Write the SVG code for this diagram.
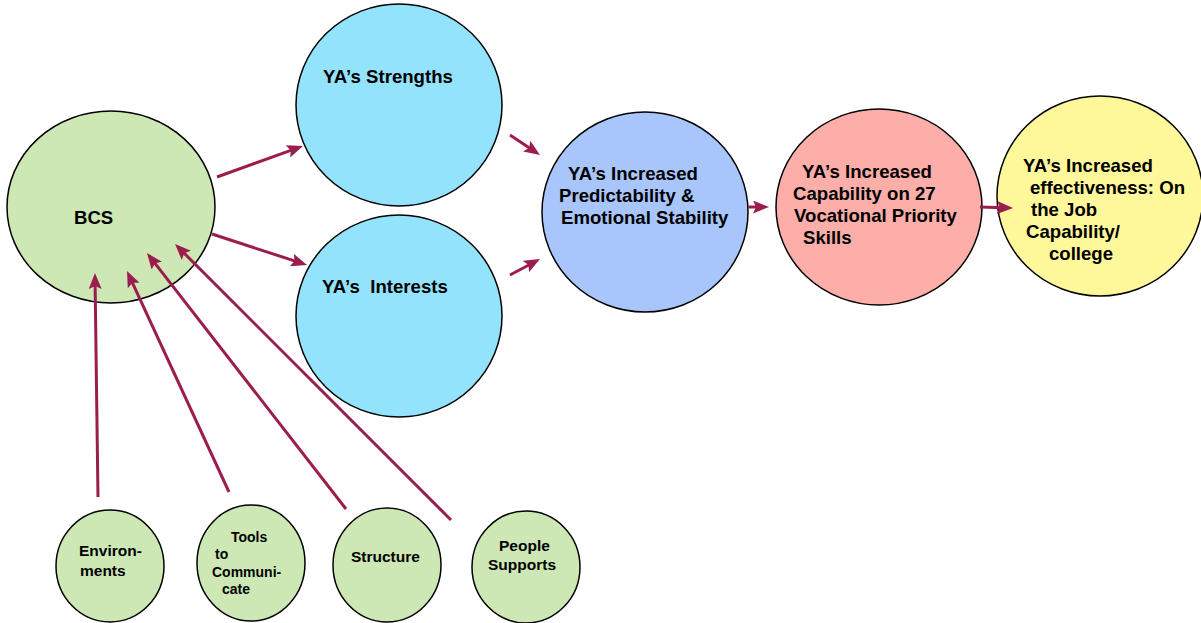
<svg xmlns="http://www.w3.org/2000/svg" width="1201" height="623" viewBox="0 0 1201 623">
  <style>
    .node { stroke: #000; stroke-width: 1.5; }
    .green { fill: #cde8b5; }
    .sky { fill: #94e3fc; }
    .blue { fill: #a8c6fc; }
    .pink { fill: #fdaea9; }
    .yellow { fill: #fef89a; }
    text { font-family: "Liberation Sans", Arial, sans-serif; font-weight: bold; fill: #000; }
    .big { font-size: 18.6px; }
    .small { font-size: 15.5px; }
    .tiny { font-size: 14px; }
    .conn { stroke: #9b1d4e; stroke-width: 3; fill: none; marker-end: url(#head); }
  </style>
  <defs>
    <marker id="head" markerUnits="userSpaceOnUse" viewBox="0 0 16 13" markerWidth="16" markerHeight="13" refX="6" refY="6.5" orient="auto">
      <path d="M0,0 L16,6.5 L0,13 L3,6.5 z" fill="#9b1d4e"/>
    </marker>
  </defs>

  <rect width="1201" height="623" fill="#fff"/>

  <g id="bcs">
    <ellipse class="node green" cx="111" cy="207" rx="104" ry="96"/>
    <text class="big" x="74" y="224">BCS</text>
  </g>

  <g id="strengths">
    <ellipse class="node sky" cx="399" cy="105" rx="103" ry="101"/>
    <text class="big" x="323" y="83">YA’s Strengths</text>
  </g>

  <g id="interests">
    <ellipse class="node sky" cx="399" cy="316" rx="103" ry="101"/>
    <text class="big" x="322" y="293" xml:space="preserve">YA’s  Interests</text>
  </g>

  <g id="stability">
    <ellipse class="node blue" cx="645" cy="212" rx="103" ry="100"/>
    <text class="big" x="568" y="180">YA’s Increased</text>
    <text class="big" x="559" y="202">Predictability &amp;</text>
    <text class="big" x="561" y="224">Emotional Stability</text>
  </g>

  <g id="capability">
    <ellipse class="node pink" cx="879" cy="207" rx="103" ry="98"/>
    <text class="big" x="802" y="178">YA’s Increased</text>
    <text class="big" x="793" y="200">Capability on 27</text>
    <text class="big" x="794" y="222">Vocational Priority</text>
    <text class="big" x="803" y="244">Skills</text>
  </g>

  <g id="effectiveness">
    <ellipse class="node yellow" cx="1100" cy="196" rx="103" ry="100"/>
    <text class="big" x="1023" y="172">YA’s Increased</text>
    <text class="big" x="1030" y="194">effectiveness: On</text>
    <text class="big" x="1031" y="216">the Job</text>
    <text class="big" x="1026" y="238">Capability/</text>
    <text class="big" x="1049" y="260">college</text>
  </g>

  <g id="environments">
    <ellipse class="node green" cx="110" cy="566" rx="54" ry="56"/>
    <text class="small" x="79" y="556">Environ-</text>
    <text class="small" x="80" y="576">ments</text>
  </g>

  <g id="tools">
    <ellipse class="node green" cx="251" cy="563" rx="54" ry="58"/>
    <text class="tiny" x="231" y="542">Tools</text>
    <text class="tiny" x="215" y="559">to</text>
    <text class="tiny" x="212" y="577">Communi-</text>
    <text class="tiny" x="222" y="594">cate</text>
  </g>

  <g id="structure">
    <ellipse class="node green" cx="387" cy="565" rx="54" ry="57"/>
    <text class="small" x="351" y="562">Structure</text>
  </g>

  <g id="people">
    <ellipse class="node green" cx="526" cy="567" rx="54" ry="56"/>
    <text class="small" x="499" y="551">People</text>
    <text class="small" x="488" y="570">Supports</text>
  </g>

  <g id="connectors">
    <line class="conn" x1="217" y1="177" x2="293.6" y2="149.4"/>
    <line class="conn" x1="212" y1="234" x2="297.5" y2="261.9"/>
    <line class="conn" x1="510" y1="135" x2="531.7" y2="149.5"/>
    <line class="conn" x1="510" y1="275" x2="531.2" y2="263.7"/>
    <line class="conn" x1="748" y1="207" x2="759" y2="207"/>
    <line class="conn" x1="980" y1="207" x2="1003" y2="207.7"/>
    <line class="conn" x1="98" y1="497" x2="95.1" y2="283"/>
    <line class="conn" x1="229" y1="492" x2="131.2" y2="280.1"/>
    <line class="conn" x1="346" y1="509" x2="153.1" y2="260.9"/>
    <line class="conn" x1="451" y1="520" x2="182.1" y2="251.1"/>
  </g>
</svg>
